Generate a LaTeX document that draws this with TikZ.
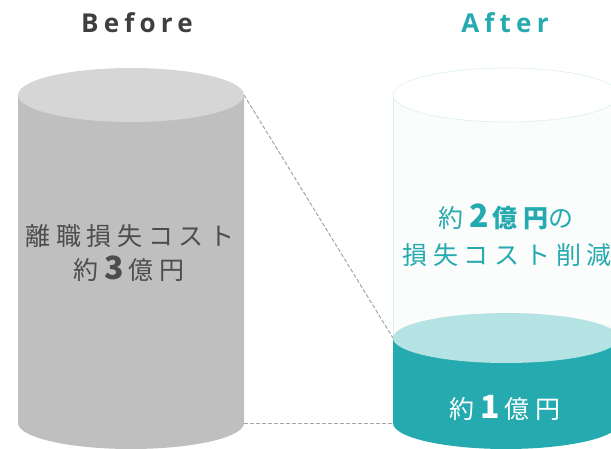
\documentclass[tikz,border=0pt]{standalone}
\usepackage{fontspec}
\newfontfamily\jp[LetterSpace=23]{Noto Sans CJK JP}
\newfontfamily\jpnum{Noto Sans CJK JP}
\newfontfamily\lat[LetterSpace=20]{Open Sans}
\definecolor{teal1}{HTML}{25AAB0}
\definecolor{teal2}{HTML}{B5E3E4}
\definecolor{gbody}{HTML}{BFBFBF}
\definecolor{gtop}{HTML}{D6D6D6}
\definecolor{gtext}{HTML}{4D4D4D}
\definecolor{htext}{HTML}{3F3F3F}
\definecolor{faint}{HTML}{DCEFEF}
\definecolor{faintfill}{HTML}{FBFCFC}
\definecolor{dashc}{HTML}{A5A5A5}
\tikzset{
  x=1pt,y=1pt,
  head/.style={font=\lat\bfseries\fontsize{26}{26}\selectfont, anchor=base, inner sep=0pt},
  lbl/.style={font=\jp\fontsize{25}{25}\selectfont, inner sep=0pt},
  conn/.style={draw=dashc, dash pattern=on 4pt off 2pt, line width=1pt},
}
\newcommand{\bignum}[1]{\hspace{6pt}{\jpnum\bfseries\fontsize{32}{32}\selectfont #1}\hspace{4pt}}
\begin{document}
\begin{tikzpicture}
\useasboundingbox (0,0) rectangle (611,448);
\clip (0,0) rectangle (611,448);
% left cylinder
\fill[gbody] (18,353) -- (18,25) arc[start angle=180,end angle=360,x radius=113,y radius=26] -- (244,353) -- cycle;
\fill[gtop] (131,353) ellipse[x radius=113,y radius=27];
\coordinate (ltop) at (244,353);
\coordinate (lbot) at (244,25);
% right cylinder (faint outline)
\fill[faintfill] (393,353) -- (393,25) arc[start angle=180,end angle=360,x radius=113,y radius=26] -- (619,353) -- cycle;
\draw[faint, line width=0.6pt] (393,353) -- (393,110);
\filldraw[fill=white, draw=faint, line width=0.6pt] (506,353) ellipse[x radius=113,y radius=27];
% teal part
\fill[teal1] (393,110) -- (393,25) arc[start angle=180,end angle=360,x radius=113,y radius=26] -- (619,110) -- cycle;
\fill[teal2] (506,110) ellipse[x radius=113,y radius=25];
\coordinate (rtop) at (393,110);
\coordinate (rbot) at (393,25);
% connectors
\draw[conn] (ltop) -- (rtop);
\draw[conn] (lbot) -- (rbot);
% headings
\node[head, text=htext] (before) at (137,415) {Before};
\node[head, text=teal1] (after) at (505,415) {After};
% texts
\node[lbl, text=gtext] (l1) at (130,211.5) {離職損失コスト};
\node[lbl, text=gtext, anchor=base] (l2) at (129,168) {約\bignum{3}億円};
\node[lbl, text=teal1, anchor=base] (r1) at (506,220) {約\bignum{2}{\bfseries 億円}の};
\node[lbl, text=teal1] (r2) at (507,193) {損失コスト削減};
\node[lbl, text=white, anchor=base] (r3) at (505,30) {約\bignum{1}億円};
\end{tikzpicture}
\end{document}
